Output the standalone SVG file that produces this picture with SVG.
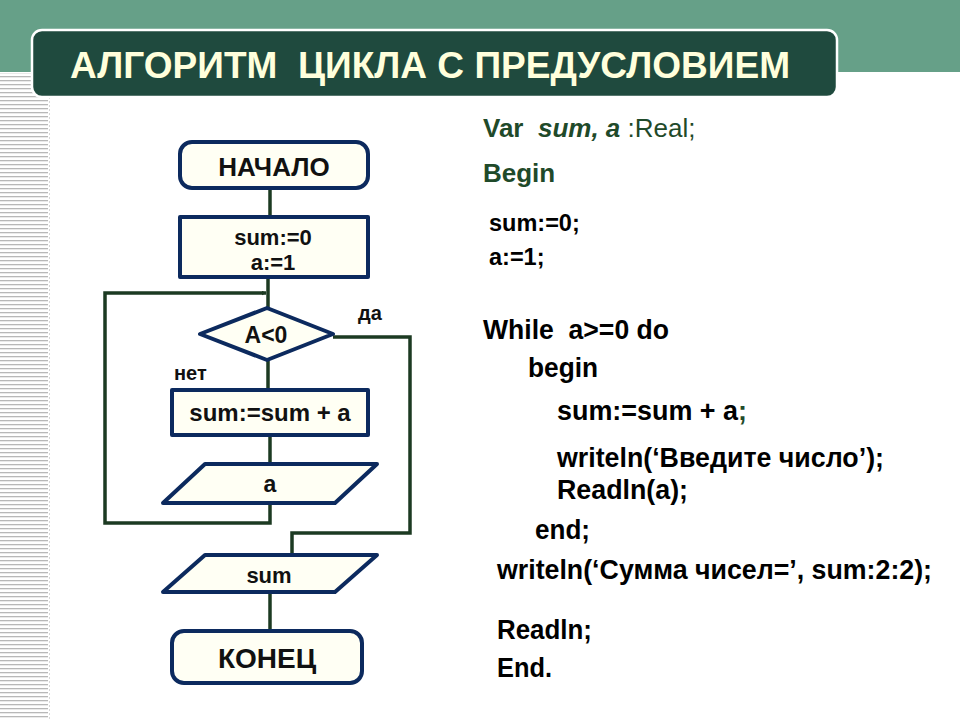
<svg xmlns="http://www.w3.org/2000/svg" width="960" height="720" viewBox="0 0 960 720">
<defs>
<style>
.node{fill:#fffff4;stroke:#0c2a5e;stroke-width:4;stroke-linejoin:round}
.conn{fill:none;stroke:#1c3a22;stroke-width:3.5}
.nt{font-family:"Liberation Sans",Arial,sans-serif;font-weight:bold;fill:#111;text-anchor:middle}
.code{font-family:"Liberation Sans",Arial,sans-serif;font-weight:bold;fill:#000;font-size:27px;white-space:pre}
.green{fill:#1f4a2a}
.lbl{font-family:"Liberation Sans",Arial,sans-serif;font-weight:bold;fill:#111;font-size:20px}
</style>
<marker id="arr" viewBox="0 0 10 10" refX="9" refY="5" markerWidth="5" markerHeight="5" orient="auto" markerUnits="userSpaceOnUse">
<path d="M0,0 L10,5 L0,10 z" fill="#1c3a22"/>
</marker>
<pattern id="stripes" width="48" height="4" patternUnits="userSpaceOnUse">
<rect x="0" y="0" width="48" height="1.3" fill="#b8b8b8"/>
</pattern>
</defs>
<rect width="960" height="720" fill="#ffffff"/>
<rect x="0" y="0" width="960" height="72" fill="#66a088"/>
<rect x="0" y="73" width="48" height="647" fill="url(#stripes)"/>
<line x1="49.5" y1="73" x2="49.5" y2="720" stroke="#d8d8d8" stroke-width="1" stroke-dasharray="2,2"/>
<g id="title">
<rect x="32" y="30" width="805" height="67" rx="10" fill="#1f4a3e" stroke="#ffffff" stroke-width="2.5"/>
<text x="70" y="78" font-family="Liberation Sans,Arial,sans-serif" font-weight="bold" font-size="37" fill="#ffffdc" textLength="720" lengthAdjust="spacingAndGlyphs" style="white-space:pre">АЛГОРИТМ  ЦИКЛА С ПРЕДУСЛОВИЕМ</text>
</g>
<g id="connectors">
<line class="conn" x1="270" y1="188" x2="270" y2="216"/>
<line class="conn" x1="268" y1="277" x2="268" y2="308"/>
<polyline class="conn" points="270,503 270,523 105,523 105,293 266,293" marker-end="url(#arr)"/>
<line class="conn" x1="268" y1="360" x2="268" y2="389"/>
<line class="conn" x1="270" y1="435" x2="270" y2="464"/>
<polyline class="conn" points="333,337 410,337 410,533 292,533 292,555"/>
<line class="conn" x1="270" y1="592" x2="270" y2="631"/>
</g>
<g id="n_start">
<rect class="node" x="180" y="142" width="188" height="46" rx="12"/>
<text class="nt" x="274" y="176" font-size="26">НАЧАЛО</text>
</g>
<g id="n_init">
<rect class="node" x="180" y="217" width="188" height="60"/>
<text class="nt" x="273" y="245" font-size="22">sum:=0</text>
<text class="nt" x="273" y="270" font-size="22">a:=1</text>
</g>
<g id="n_cond">
<polygon class="node" points="267,308 333,334 267,360 200,334"/>
<text class="nt" x="266" y="343" font-size="23">A&lt;0</text>
</g>
<text class="lbl" x="358" y="320">да</text>
<text class="lbl" x="174" y="380">нет</text>
<g id="n_sum">
<rect class="node" x="172" y="390" width="196" height="45"/>
<text class="nt" x="270" y="421" font-size="24">sum:=sum + a</text>
</g>
<g id="n_input">
<polygon class="node" points="205,464 377,464 335,503 163,503"/>
<text class="nt" x="270" y="492" font-size="23">a</text>
</g>
<g id="n_output">
<polygon class="node" points="205,555 377,555 335,592 163,592"/>
<text class="nt" x="269" y="583" font-size="22">sum</text>
</g>
<g id="n_end">
<rect class="node" x="172" y="631" width="190" height="52" rx="12"/>
<text class="nt" x="267" y="668" font-size="28">КОНЕЦ</text>
</g>
<g id="code">
<text class="code green" x="483" y="137" style="font-size:26px"><tspan>Var  </tspan><tspan font-style="italic">sum, a </tspan><tspan font-weight="normal">:Real;</tspan></text>
<text class="code green" x="483" y="182" style="font-size:26px">Begin</text>
<text class="code" x="489" y="231" style="font-size:23.5px">sum:=0;</text>
<text class="code" x="489" y="265" style="font-size:23.5px">a:=1;</text>
<text class="code" x="483" y="339" textLength="186" lengthAdjust="spacingAndGlyphs">While  a&gt;=0 do</text>
<text class="code" x="528" y="377" textLength="70" lengthAdjust="spacingAndGlyphs">begin</text>
<text class="code" x="557" y="420" textLength="190" lengthAdjust="spacingAndGlyphs">sum:=sum + a<tspan fill="#1f4a2a">;</tspan></text>
<text class="code" x="557" y="467" textLength="327" lengthAdjust="spacingAndGlyphs">writeln(‘Введите число’);</text>
<text class="code" x="557" y="499" textLength="131" lengthAdjust="spacingAndGlyphs">Readln(a);</text>
<text class="code" x="535" y="539" textLength="55" lengthAdjust="spacingAndGlyphs">end;</text>
<text class="code" x="497" y="579" textLength="435" lengthAdjust="spacingAndGlyphs">writeln(‘Сумма чисел=’, sum:2:2);</text>
<text class="code" x="497" y="639" textLength="95" lengthAdjust="spacingAndGlyphs">Readln;</text>
<text class="code" x="497" y="677" textLength="55" lengthAdjust="spacingAndGlyphs">End.</text>
</g>
</svg>
